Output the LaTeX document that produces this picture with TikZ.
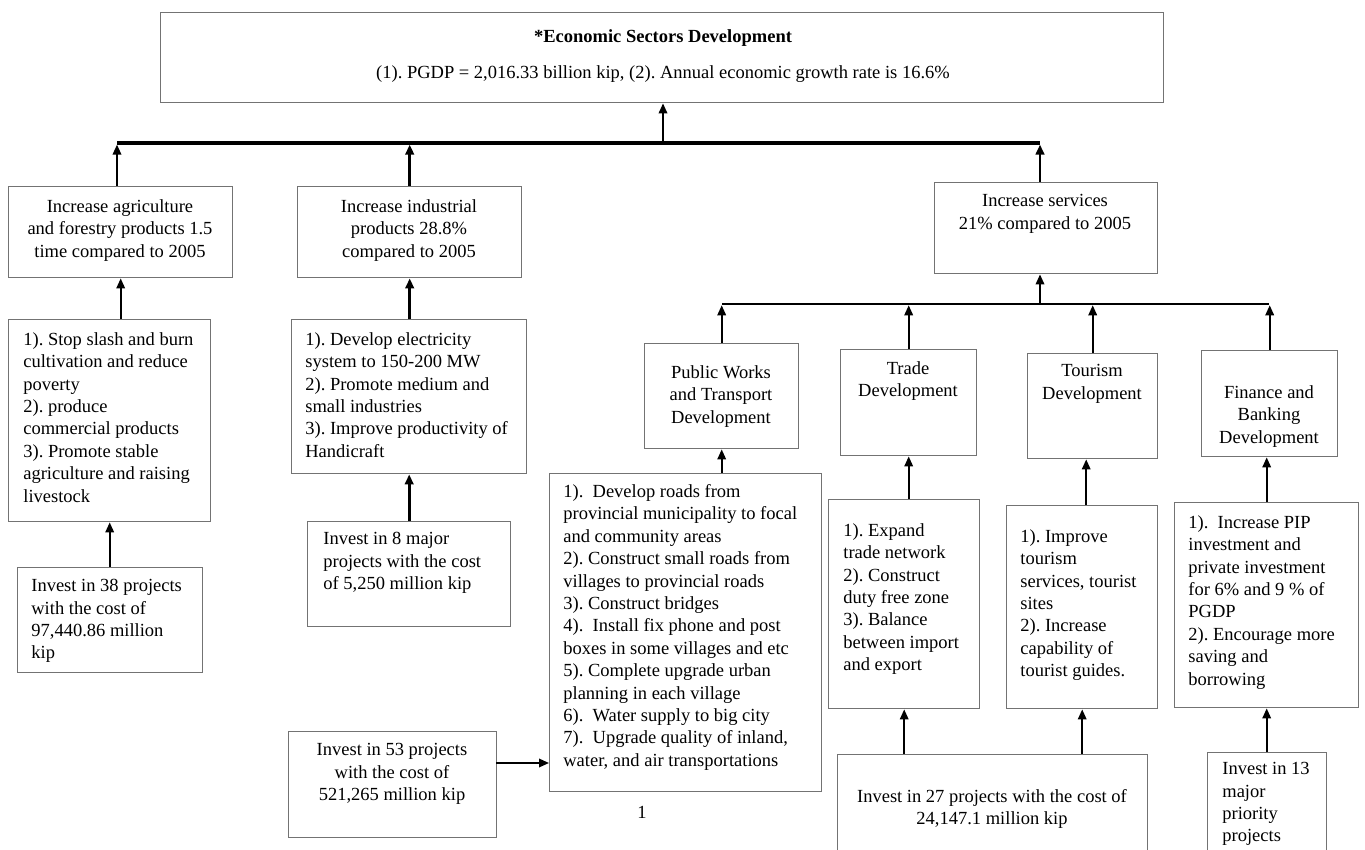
\documentclass[tikz,border=0pt]{standalone}
\usepackage{fontspec}
\setmainfont{Liberation Serif}
\usetikzlibrary{arrows.meta}

\tikzset{every picture/.style={line width=0.75pt}}

\begin{document}
\frenchspacing
\begin{tikzpicture}[x=1pt,y=1pt,yscale=-1,xscale=1,
	box/.style={draw=black!55, line width=1.4pt, anchor=north west, inner sep=0pt},
	txt/.style={inner sep=0pt, align=left, anchor=north west, text=black, font=\fontsize{18.5pt}{22.4pt}\selectfont},
	ctxt/.style={txt, align=center, anchor=north},
	link/.style={line width=1.8pt, -{Triangle[length=10pt,width=8.5pt]}},
	thicklink/.style={link, line width=2.8pt},
	bar/.style={line width=3.2pt}]
	\clip (0,0) rectangle (1365,850);

	%Shape: Rectangle [top]
	\node[box, minimum width=1003pt, minimum height=90pt] (top) at (160,12) {};
	%Shape: Rectangle [sectors]
	\node[box, minimum width=224pt, minimum height=91pt] (agri) at (8,186) {};
	\node[box, minimum width=224pt, minimum height=91pt] (ind) at (297,186) {};
	\node[box, minimum width=223pt, minimum height=91pt] (serv) at (934,182) {};
	%Shape: Rectangle [agriculture and industry]
	\node[box, minimum width=202pt, minimum height=202pt] (agrilist) at (8,319) {};
	\node[box, minimum width=235pt, minimum height=154pt] (indlist) at (291,319) {};
	\node[box, minimum width=185pt, minimum height=105pt] (agriinv) at (17,567) {};
	\node[box, minimum width=203pt, minimum height=105pt] (indinv) at (307,521) {};
	%Shape: Rectangle [services]
	\node[box, minimum width=154pt, minimum height=105pt] (pw) at (644,343) {};
	\node[box, minimum width=136pt, minimum height=106pt] (trade) at (840,349) {};
	\node[box, minimum width=130pt, minimum height=105pt] (tour) at (1027,353) {};
	\node[box, minimum width=136pt, minimum height=106pt] (fin) at (1201,350) {};
	\node[box, minimum width=272pt, minimum height=318pt] (pwlist) at (549,473) {};
	\node[box, minimum width=151pt, minimum height=209pt] (trlist) at (828,499) {};
	\node[box, minimum width=151pt, minimum height=203pt] (tolist) at (1006,505) {};
	\node[box, minimum width=184pt, minimum height=205pt] (finlist) at (1174,502) {};
	\node[box, minimum width=208pt, minimum height=106pt] (inv53) at (288,731) {};
	\node[box, minimum width=310pt, minimum height=120pt] (inv27) at (837,754) {};
	\node[box, minimum width=119pt, minimum height=120pt] (inv13) at (1207,752) {};

	%Straight Lines [bus]
	\coordinate (busL) at (117,143);
	\coordinate (busM) at (663,143);
	\coordinate (busR) at (1040,143);
	\draw[bar] (busL) -- (busR);
	\draw[link] (busM) -- (busM |- top.south);
	\draw[link, shorten >=1.6pt] (busL |- agri.north) -- (busL);
	\draw[thicklink, shorten >=1.6pt] (ind.north) -- (ind.north |- busL);
	\draw[thicklink, shorten >=1.6pt] (busR |- serv.north) -- (busR);

	%Straight Lines [agriculture and industry]
	\draw[link] (agri.south |- agrilist.north) -- (agri.south);
	\draw[link] (agrilist.south |- agriinv.north) -- (agrilist.south);
	\draw[thicklink] (ind.south |- indlist.north) -- (ind.south);
	\draw[thicklink] (indlist.south |- indinv.north) -- (indlist.south);

	%Straight Lines [services]
	\coordinate (subL) at (722,304);
	\coordinate (subR) at (1269,304);
	\draw[bar, line width=2.6pt] (subL) -- (subR);
	\draw[link] (busR |- subL) -- (busR |- serv.south);
	\draw[link, shorten >=1.3pt] (pw.north) -- (pw.north |- subL);
	\draw[link, shorten >=1.3pt] (trade.north) -- (trade.north |- subL);
	\draw[link, shorten >=1.3pt] (tour.north) -- (tour.north |- subL);
	\draw[link, shorten >=1.3pt] (fin.north) -- (fin.north |- subL);
	\draw[link] (pw.south |- pwlist.north) -- (pw.south);
	\draw[link] (trade.south |- trlist.north) -- (trade.south);
	\draw[link] ([xshift=4pt]tolist.north) -- ([xshift=4pt]tolist.north |- tour.south);
	\draw[link] (finlist.north) -- (finlist.north |- fin.south);
	\draw[link] (trlist.south |- inv27.north) -- (trlist.south);
	\draw[link] (tolist.south |- inv27.north) -- (tolist.south);
	\draw[link] (finlist.south |- inv13.north) -- (finlist.south);
	\coordinate (in53) at (496,763);
	\draw[link] (in53) -- (in53 -| pwlist.west);

	% Text Node
	\node[ctxt] (top-t) at (663,29) {\textbf{*Economic Sectors Development}\\[13.6pt]
		(1). PGDP = 2,016.33 billion kip, (2). Annual economic growth rate is 16.6\%};
	% Text Node
	\node[ctxt] (agri-t) at (120,199) {Increase agriculture\\ and forestry products 1.5\\ time compared to 2005};
	% Text Node
	\node[ctxt] (ind-t) at (409,199) {Increase industrial\\ products 28.8\%\\ compared to 2005};
	% Text Node
	\node[ctxt] (serv-t) at (1045,194) {Increase services\\ 21\% compared to 2005};
	% Text Node
	\node[txt] (agrilist-t) at (23,332) {1). Stop slash and burn\\ cultivation and reduce\\ poverty\\ 2). produce\\
		commercial products\\ 3). Promote stable\\ agriculture and raising\\ livestock};
	% Text Node
	\node[txt] (indlist-t) at (305,332) {1). Develop electricity\\ system to 150-200 MW\\ 2). Promote medium and\\
		small industries\\ 3). Improve productivity of\\ Handicraft};
	% Text Node
	\node[txt] (agriinv-t) at (31,579) {Invest in 38 projects\\ with the cost of\\ 97,440.86 million\\ kip};
	% Text Node
	\node[txt] (indinv-t) at (323,532) {Invest in 8 major\\ projects with the cost\\ of 5,250 million kip};
	% Text Node
	\node[ctxt] (pw-t) at (721,365) {Public Works\\ and Transport\\ Development};
	% Text Node
	\node[ctxt] (trade-t) at (908,361) {Trade\\ Development};
	% Text Node
	\node[ctxt] (tour-t) at (1092,364) {Tourism\\ Development};
	% Text Node
	\node[ctxt] (fin-t) at (1269,385) {Finance and\\ Banking\\ Development};
	% Text Node
	\node[txt] (pwlist-t) at (563,484) {1).\ \ Develop roads from\\ provincial municipality to focal\\ and community areas\\
		2). Construct small roads from\\ villages to provincial roads\\ 3). Construct bridges\\
		4).\ \ Install fix phone and post\\ boxes in some villages and etc\\ 5). Complete upgrade urban\\
		planning in each village\\ 6).\ \ Water supply to big city\\ 7).\ \ Upgrade quality of inland,\\
		water, and air transportations};
	% Text Node
	\node[txt] (trlist-t) at (843,523) {1). Expand\\ trade network\\ 2). Construct\\ duty free zone\\ 3). Balance\\
		between import\\ and export};
	% Text Node
	\node[txt] (tolist-t) at (1020,529) {1). Improve\\ tourism\\ services, tourist\\ sites\\ 2). Increase\\
		capability of\\ tourist guides.};
	% Text Node
	\node[txt] (finlist-t) at (1188,515) {1).\ \ Increase PIP\\ investment and\\ private investment\\ for 6\% and 9 \% of\\
		PGDP\\ 2). Encourage more\\ saving and\\ borrowing};
	% Text Node
	\node[ctxt] (inv53-t) at (392,743) {Invest in 53 projects\\ with the cost of\\ 521,265 million kip};
	% Text Node
	\node[ctxt] (inv27-t) at (992,789) {Invest in 27 projects with the cost of\\ 24,147.1 million kip};
	% Text Node
	\node[txt] (inv13-t) at (1222,762) {Invest in 13\\ major\\ priority\\ projects};
	% Text Node
	\node[txt, anchor=center] (page-t) at (642,812) {1};

\end{tikzpicture}
\end{document}
